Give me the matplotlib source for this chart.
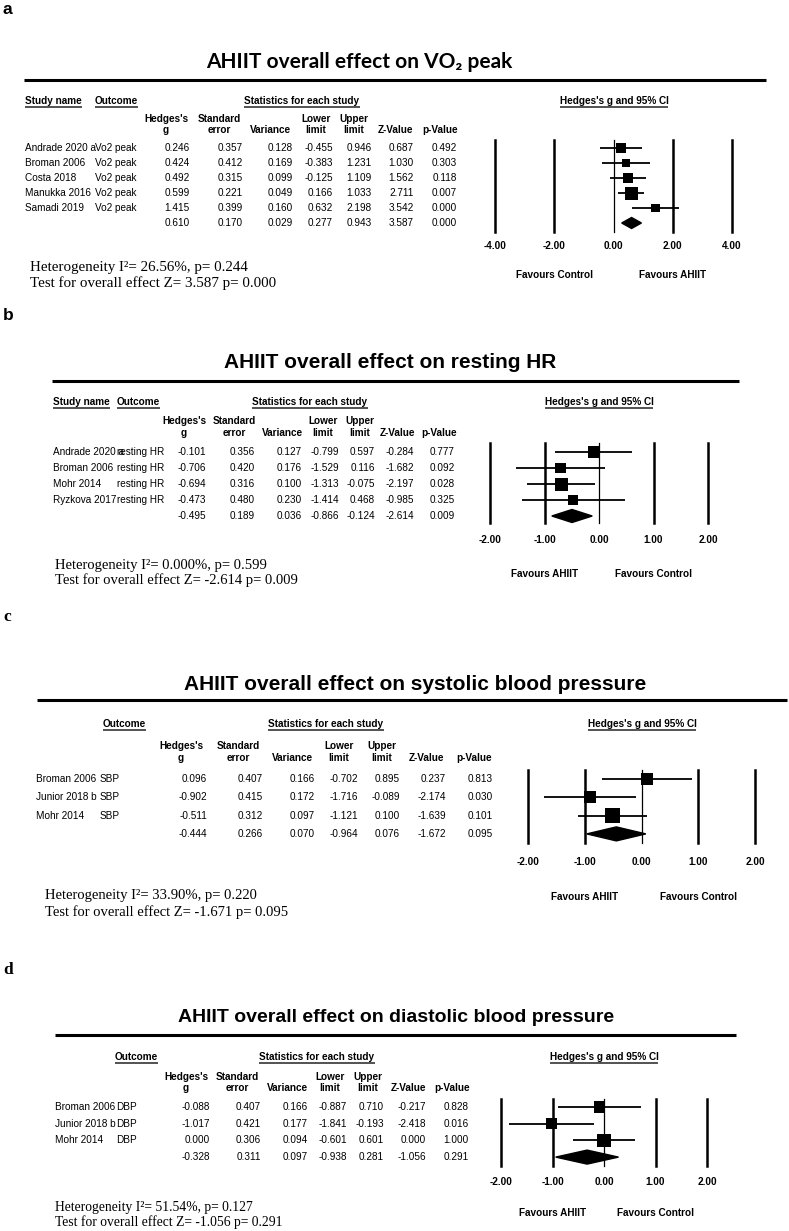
import numpy as np
import matplotlib.pyplot as plt
from matplotlib.transforms import blended_transform_factory

W, H = 789, 1231

# ---------------- data ----------------
hdr_top = ["Hedges's", 'Standard', '', 'Lower', 'Upper', '', '']
hdr_bot = ['g', 'error', 'Variance', 'limit', 'limit', 'Z-Value', 'p-Value']

a_title = 'AHIIT overall effect on VO₂ peak'
a_study = ['Andrade 2020 a', 'Broman 2006', 'Costa 2018', 'Manukka 2016', 'Samadi 2019']
a_outcome = ['Vo2 peak', 'Vo2 peak', 'Vo2 peak', 'Vo2 peak', 'Vo2 peak']
a_g = [0.246, 0.424, 0.492, 0.599, 1.415]
a_se = [0.357, 0.412, 0.315, 0.221, 0.399]
a_var = [0.128, 0.169, 0.099, 0.049, 0.160]
a_lower = [-0.455, -0.383, -0.125, 0.166, 0.632]
a_upper = [0.946, 1.231, 1.109, 1.033, 2.198]
a_z = [0.687, 1.030, 1.562, 2.711, 3.542]
a_p = [0.492, 0.303, 0.118, 0.007, 0.000]
a_pooled = [0.610, 0.170, 0.029, 0.277, 0.943, 3.587, 0.000]
a_ticks = [-4, -2, 0, 2, 4]
a_favours = ['Favours Control', 'Favours AHIIT']
a_het = ['Heterogeneity I²= 26.56%, p= 0.244', 'Test for overall effect Z= 3.587 p= 0.000']

b_title = 'AHIIT overall effect on resting HR'
b_study = ['Andrade 2020 a', 'Broman 2006', 'Mohr 2014', 'Ryzkova 2017']
b_outcome = ['resting HR', 'resting HR', 'resting HR', 'resting HR']
b_g = [-0.101, -0.706, -0.694, -0.473]
b_se = [0.356, 0.420, 0.316, 0.480]
b_var = [0.127, 0.176, 0.100, 0.230]
b_lower = [-0.799, -1.529, -1.313, -1.414]
b_upper = [0.597, 0.116, -0.075, 0.468]
b_z = [-0.284, -1.682, -2.197, -0.985]
b_p = [0.777, 0.092, 0.028, 0.325]
b_pooled = [-0.495, 0.189, 0.036, -0.866, -0.124, -2.614, 0.009]
b_ticks = [-2, -1, 0, 1, 2]
b_favours = ['Favours AHIIT', 'Favours Control']
b_het = ['Heterogeneity I²= 0.000%, p= 0.599', 'Test for overall effect Z= -2.614 p= 0.009']

c_title = 'AHIIT overall effect on systolic blood pressure'
c_study = ['Broman 2006', 'Junior 2018 b', 'Mohr 2014']
c_outcome = ['SBP', 'SBP', 'SBP']
c_g = [0.096, -0.902, -0.511]
c_se = [0.407, 0.415, 0.312]
c_var = [0.166, 0.172, 0.097]
c_lower = [-0.702, -1.716, -1.121]
c_upper = [0.895, -0.089, 0.100]
c_z = [0.237, -2.174, -1.639]
c_p = [0.813, 0.030, 0.101]
c_pooled = [-0.444, 0.266, 0.070, -0.964, 0.076, -1.672, 0.095]
c_ticks = [-2, -1, 0, 1, 2]
c_favours = ['Favours AHIIT', 'Favours Control']
c_het = ['Heterogeneity I²= 33.90%, p= 0.220', 'Test for overall effect Z= -1.671 p= 0.095']

d_title = 'AHIIT overall effect on diastolic blood pressure'
d_study = ['Broman 2006', 'Junior 2018 b', 'Mohr 2014']
d_outcome = ['DBP', 'DBP', 'DBP']
d_g = [-0.088, -1.017, 0.000]
d_se = [0.407, 0.421, 0.306]
d_var = [0.166, 0.177, 0.094]
d_lower = [-0.887, -1.841, -0.601]
d_upper = [0.710, -0.193, 0.601]
d_z = [-0.217, -2.418, 0.000]
d_p = [0.828, 0.016, 1.000]
d_pooled = [-0.328, 0.311, 0.097, -0.938, 0.281, -1.056, 0.291]
d_ticks = [-2, -1, 0, 1, 2]
d_favours = ['Favours AHIIT', 'Favours Control']
d_het = ['Heterogeneity I²= 51.54%, p= 0.127', 'Test for overall effect Z= -1.056 p= 0.291']

SANS = 'Liberation Sans'
SERIF = 'Liberation Serif'
FS = 7.2

fig = plt.figure(figsize=(W / 100, H / 100), dpi=100)
ax0 = fig.add_axes([0, 0, 1, 1])
ax0.set_xlim(0, W)
ax0.set_ylim(H, 0)
ax0.axis('off')
renderer = fig.canvas.get_renderer()


def underline(t):
    bb = t.get_window_extent(renderer=renderer)
    inv = ax0.transData.inverted()
    (x0, y0), (x1, y1) = inv.transform([[bb.x0, bb.y0], [bb.x1, bb.y1]])
    yb = max(y0, y1) + 1.0
    ax0.plot([x0, x1], [yb, yb], color='#444444', lw=1.3, solid_capstyle='butt')


def panel(label, label_font, label_y, title, title_font, title_size, title_x, title_y,
          rule, hdr_y, study_hdr_x, outcome_hdr_x, stats_x, ci_x, col_y, col_x, right_x,
          rows_y0, dy, study_x, outcome_x, studies, outcomes, cols, pooled,
          ticks, fx, ftop, fbot, tick_y, favours, fav_y, het, het_x, het_y, het_size,
          box_max, dia_h):
    ax0.text(3, label_y, label, fontsize=12.5, fontweight='bold', family=label_font,
             ha='left', va='center')
    ax0.text(title_x, title_y, title, fontsize=title_size, fontweight='bold',
             family=title_font, ha='center', va='center')
    ax0.plot([rule[0], rule[1]], [rule[2], rule[2]], color='k', lw=2.2, solid_capstyle='butt')

    # column group headers
    if study_hdr_x is not None:
        underline(ax0.text(study_hdr_x, hdr_y, 'Study name', fontsize=FS, fontweight='bold',
                           family=SANS, ha='left', va='center'))
    underline(ax0.text(outcome_hdr_x, hdr_y, 'Outcome', fontsize=FS, fontweight='bold',
                       family=SANS, ha='left', va='center'))
    underline(ax0.text(stats_x, hdr_y, 'Statistics for each study', fontsize=FS,
                       fontweight='bold', family=SANS, ha='center', va='center'))
    underline(ax0.text(ci_x, hdr_y, "Hedges's g and 95% CI", fontsize=FS,
                       fontweight='bold', family=SANS, ha='center', va='center'))
    for x, t1, t2 in zip(col_x, hdr_top, hdr_bot):
        if t1:
            ax0.text(x, col_y[0], t1, fontsize=FS, fontweight='bold', family=SANS,
                     ha='center', va='center')
        ax0.text(x, col_y[1], t2, fontsize=FS, fontweight='bold', family=SANS,
                 ha='center', va='center')

    n = len(studies)
    for i in range(n):
        y = rows_y0 + i * dy
        ax0.text(study_x, y, studies[i], fontsize=FS, family=SANS, ha='left', va='center')
        ax0.text(outcome_x, y, outcomes[i], fontsize=FS, family=SANS, ha='left', va='center')
        for x, col in zip(right_x, cols):
            ax0.text(x, y, f'{col[i]:.3f}', fontsize=FS, family=SANS, ha='right', va='center')
    y = rows_y0 + n * dy
    for x, v in zip(right_x, pooled):
        ax0.text(x, y, f'{v:.3f}', fontsize=FS, family=SANS, ha='right', va='center')

    # forest plot
    L = ticks[-1]
    axf = fig.add_axes([fx[0] / W, 1 - fbot / H, (fx[1] - fx[0]) / W, (fbot - ftop) / H])
    axf.patch.set_alpha(0)
    axf.set_xlim(-L, L)
    axf.set_ylim((fbot - rows_y0) / dy, (ftop - rows_y0) / dy)
    for s in axf.spines.values():
        s.set_visible(False)
    axf.set_yticks([])
    axf.set_xticks(ticks)
    axf.set_xticklabels([f'{t:.2f}' for t in ticks], fontsize=FS, fontweight='bold', family=SANS)
    axf.tick_params(axis='x', length=0, pad=(tick_y - fbot - 5) * 0.72)
    for t in ticks:
        axf.axvline(t, color='k', lw=0.9 if t == 0 else 1.8, zorder=1, clip_on=False)

    g, lo, hi, var = cols[0], cols[3], cols[4], cols[2]
    rows = np.arange(n)
    axf.hlines(rows, lo, hi, color='k', lw=1.3, zorder=2, clip_on=False)
    w = 1 / (np.array(var) + 0.05)
    side = box_max * np.sqrt(w / w.max()) * 0.72
    axf.scatter(g, rows, marker='s', s=side ** 2, color='k', linewidths=0, zorder=3, clip_on=False)
    hh = dia_h / dy
    axf.fill([pooled[3], pooled[0], pooled[4], pooled[0]], [n, n - hh, n, n + hh],
             color='k', zorder=3, clip_on=False)

    tr = blended_transform_factory(axf.transData, ax0.transData)
    axf.text(-L / 2, fav_y, favours[0], transform=tr, fontsize=FS, fontweight='bold',
             family=SANS, ha='center', va='center')
    axf.text(L / 2, fav_y, favours[1], transform=tr, fontsize=FS, fontweight='bold',
             family=SANS, ha='center', va='center')

    for line, yy in zip(het, het_y):
        ax0.text(het_x, yy, line, fontsize=het_size, family=SERIF, ha='left', va='center')


panel('a', SANS, 9, a_title, ['Lato', 'DejaVu Sans'], 15, 359, 62,
      (24, 766, 80), 101, 25, 95, 302, 614, (119, 130),
      [166, 219, 271, 316, 354, 396, 440], [190, 243, 293, 333, 372, 414, 457],
      148, 15, 25, 95, a_study, a_outcome,
      [a_g, a_se, a_var, a_lower, a_upper, a_z, a_p], a_pooled,
      a_ticks, (495, 732), 140, 232, 246, a_favours, 275,
      a_het, 30, (267, 283), 10.8, 13, 5.5)

panel('b', SANS, 316, b_title, SANS, 15, 390, 363,
      (52, 739, 381), 402, 53, 117, 310, 599, (421, 433),
      [184, 234, 283, 323, 360, 398, 439], [206, 255, 302, 339, 375, 414, 455],
      452, 16, 53, 117, b_study, b_outcome,
      [b_g, b_se, b_var, b_lower, b_upper, b_z, b_p], b_pooled,
      b_ticks, (490, 708), 443, 523, 540, b_favours, 574,
      b_het, 55, (565, 580), 10.5, 13, 6.5)

panel('c', SERIF, 617, c_title, SANS, 15, 415, 684,
      (37, 787, 700), 724, None, 103, 326, 642, (746, 758),
      [181, 238, 293, 339, 382, 427, 474], [207, 263, 315, 358, 400, 446, 493],
      779, 18.3, 36, 100, c_study, c_outcome,
      [c_g, c_se, c_var, c_lower, c_upper, c_z, c_p], c_pooled,
      c_ticks, (528, 755), 770, 843, 862, c_favours, 897,
      c_het, 45, (895, 912), 10.5, 15, 7)

panel('d', SERIF, 970, d_title, SANS, 14, 396, 1018,
      (55, 736, 1035), 1057, None, 115, 317, 604, (1077, 1088),
      [186, 237, 288, 330, 368, 409, 452], [210, 261, 308, 347, 384, 426, 469],
      1107, 16.7, 55, 116, d_study, d_outcome,
      [d_g, d_se, d_var, d_lower, d_upper, d_z, d_p], d_pooled,
      d_ticks, (501, 707), 1099, 1166, 1182, d_favours, 1213,
      d_het, 55, (1207, 1222), 9.8, 13.5, 7)

fig.savefig('out.png', dpi=100)
